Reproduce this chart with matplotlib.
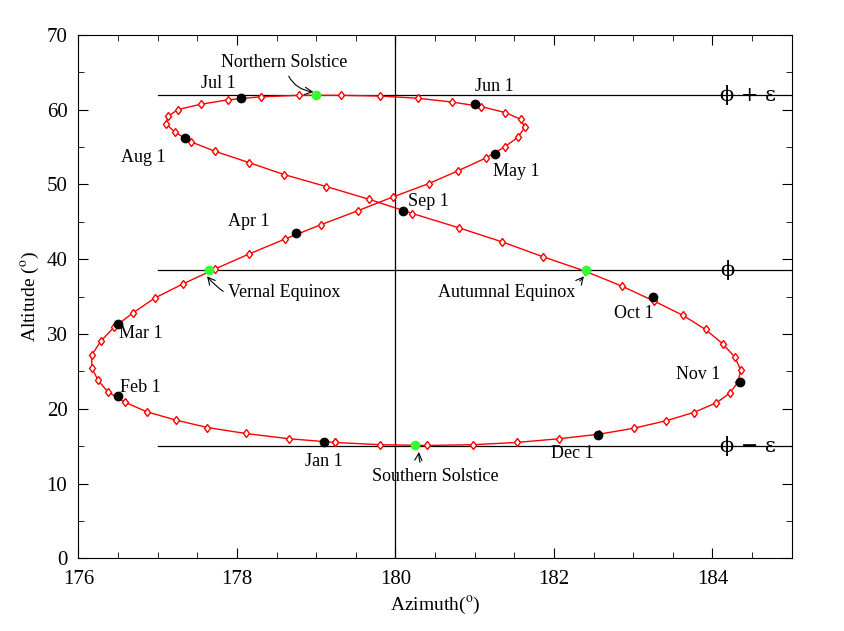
import numpy as np
import matplotlib
matplotlib.use("Agg")
from matplotlib import pyplot as plt

plt.rcParams['font.family'] = ['Liberation Serif', 'DejaVu Serif']
plt.rcParams['mathtext.fontset'] = 'stix'

phi = 38.5
eps = 23.5

# equation of time (min) and declination (deg), every 5 days from Jan 1
eot = [-3.2, -5.6, -7.8, -9.7, -11.2, -12.5, -13.4, -14.0, -14.2, -14.2, -13.9, -13.2,
       -12.3, -11.2, -10.0, -8.6, -7.1, -5.6, -4.1, -2.7, -1.3, -0.1, 1.1, 2.0,
       2.8, 3.3, 3.6, 3.7, 3.5, 3.0, 2.3, 1.5, 0.6, -0.4, -1.4, -2.5,
       -3.5, -4.4, -5.2, -5.9, -6.3, -6.5, -6.4, -6.1, -5.5, -4.6, -3.6, -2.3,
       -0.9, 0.6, 2.3, 4.0, 5.7, 7.5, 9.2, 10.8, 12.3, 13.6, 14.7, 15.6,
       16.2, 16.4, 16.3, 15.9, 15.0, 13.8, 12.3, 10.6, 8.6, 6.4, 4.1, 1.7, -0.8, -3.2]
dec = [-23.0, -22.5, -21.8, -21.0, -20.0, -18.9, -17.6, -16.2, -14.7, -13.0, -11.3, -9.5,
       -7.6, -5.7, -3.7, -1.8, 0.2, 2.2, 4.2, 6.1, 8.0, 9.8, 11.6, 13.3,
       15.0, 16.5, 17.8, 19.1, 20.2, 21.1, 21.9, 22.5, 23.0, 23.3, 23.4, 23.4,
       23.2, 22.8, 22.2, 21.5, 20.6, 19.6, 18.5, 17.2, 15.9, 14.4, 12.8, 11.2,
       9.5, 7.6, 5.7, 3.8, 1.8, -0.1, -2.1, -4.1, -6.0, -7.9, -9.8, -11.6,
       -13.3, -14.9, -16.4, -17.7, -19.0, -20.1, -21.1, -21.9, -22.5, -23.0, -23.3, -23.4, -23.3, -23.0]

# marked dates
month_names = ["Jan 1", "Feb 1", "Mar 1", "Apr 1", "May 1", "Jun 1",
               "Jul 1", "Aug 1", "Sep 1", "Oct 1", "Nov 1", "Dec 1"]
month_az = [179.1, 176.5, 176.5, 178.75, 181.25, 181.0, 178.05, 177.35, 180.1, 183.25, 184.35, 182.55]
month_alt = [15.6, 21.7, 31.3, 43.5, 54.0, 60.8, 61.5, 56.2, 46.4, 34.9, 23.6, 16.5]
month_off = [(0, -14), (16, 6), (16, -7), (-34, 8), (16, -12), (14, 12),
             (-16, 11), (-30, -14), (18, 7), (-14, -12), (-30, 5), (-18, -13)]

special_az = [177.65, 179.0, 182.4, 180.25]
special_alt = [38.5, 62.0, 38.5, 15.1]

eot = np.array(eot)
dec = np.array(dec)
alt = phi + dec
az = 180 + 0.25 * eot * np.cos(np.radians(dec)) / np.cos(np.radians(alt))

fig, ax = plt.subplots(figsize=(8.44, 6.31), dpi=100)
fig.subplots_adjust(left=0.093, right=0.938, top=0.945, bottom=0.115)

for y in [phi + eps, phi, phi - eps]:
    ax.plot([177, 185], [y, y], color='black', lw=0.9)
ax.axvline(180, color='black', lw=0.9)

ax.plot(az, alt, '-', color='red', lw=1.0)
ax.plot(az, alt, 'd', ms=4.5, mfc='white', mec='red', mew=1.0)
ax.plot(month_az, month_alt, 'o', color='black', ms=6)
ax.plot(special_az, special_alt, 'o', color='#33ff33', ms=6)

for name, x, y, off in zip(month_names, month_az, month_alt, month_off):
    ax.annotate(name, (x, y), xytext=off, textcoords='offset points',
                ha='center', va='center', fontsize=13)

arrow = dict(arrowstyle='->', color='black', lw=0.8, connectionstyle='arc3,rad=0.4')
ax.annotate("Northern Solstice", (179.0, 62.3), xytext=(178.6, 66.3), ha='center',
            va='center', fontsize=13, arrowprops=arrow)
ax.annotate("Vernal Equinox", (177.6, 38.0), xytext=(178.6, 35.5), ha='center',
            va='center', fontsize=13, arrowprops=dict(arrow, connectionstyle='arc3,rad=-0.4'))
ax.annotate("Autumnal Equinox", (182.4, 38.0), xytext=(181.4, 35.5), ha='center',
            va='center', fontsize=13, arrowprops=dict(arrow, connectionstyle='arc3,rad=0.4'))
ax.annotate("Southern Solstice", (180.3, 14.6), xytext=(180.5, 11.0), ha='center',
            va='center', fontsize=13, arrowprops=dict(arrow, connectionstyle='arc3,rad=-0.4'))

ax.text(184.1, phi + eps, 'ϕ + ε', fontsize=15, va='center', family=['DejaVu Serif'])
ax.text(184.1, phi, 'ϕ', fontsize=15, va='center', family=['DejaVu Serif'])
ax.text(184.1, phi - eps, 'ϕ − ε', fontsize=15, va='center', family=['DejaVu Serif'])

ax.set_xlim(176, 185)
ax.set_ylim(0, 70)
ax.set_xticks([176, 178, 180, 182, 184])
ax.set_xticks(np.arange(176, 185.1, 0.5), minor=True)
ax.set_yticks(np.arange(0, 71, 10))
ax.set_yticks(np.arange(0, 71, 5), minor=True)
ax.tick_params(which='both', direction='in', top=True, right=True, labelsize=15)
ax.tick_params(which='major', length=7, pad=8)
ax.tick_params(which='minor', length=4)
ax.set_xlabel(r'Azimuth($^{\rm o}$)', fontsize=14)
ax.set_ylabel(r'Altitude ($^{\rm o}$)', fontsize=14)

fig.savefig("out.png", dpi=100)
